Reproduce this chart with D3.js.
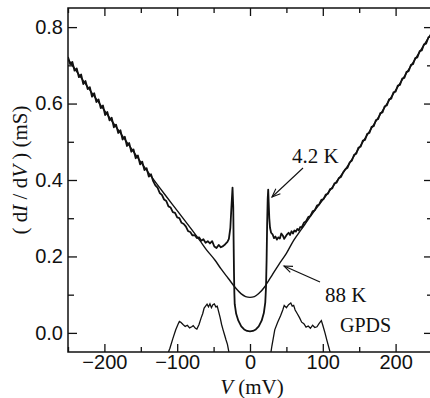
<!DOCTYPE html>
<html>
<head>
<meta charset="utf-8">
<script src="https://cdn.jsdelivr.net/npm/d3@7"></script>
<style>
  body { margin: 0; background: #fff; }
  svg { display: block; }
  .tick text { font-family: "Liberation Sans", Arial, sans-serif; font-size: 20px; fill: #111; }
  .serif { font-family: "Liberation Serif", "Times New Roman", serif; fill: #111; }
</style>
</head>
<body>
<div id="chart"></div>
<script>
// 4.2 K conductance (mV, mS)
const v42 = [-250,-247,-244,-241,-238,-235,-232,-229,-226,-223,-220,-217,-214,-211,-208,-205,-202,-199,-196,-193,-190,-187,-184,-181,-178,-175,-172,-169,-166,-163,-160,-157,-154,-151,-148,-145,-142,-139,-136,-133,
  -130,-127,-124,-121,-118,-115,-112,-109,-106,-103,-100,-97,-94,-91,-88,-85,-82,-79,-76,-73,-70,-67,-64,-61,-58,-55,-52,-49,-46,-43,-40,-37,-34,-31,-29,-27,-25.5,-24,-23,-22.5,-22,-21.5,-21,-19,-16,-12,-8,-4,
  0,4,8,12,16,19,21,22,22.8,23.5,24.3,25,25.7,26.5,27.5,29,31,33,35,37,39,41,43,45,47,49,51,53,55,57,59,61,63,65,67,69,71,
  74,77,80,83,86,89,92,95,98,101,104,107,110,113,116,119,122,125,128,131,
  134,137,140,143,146,149,152,155,158,161,164,167,170,173,176,179,182,185,188,191,194,197,200,203,206,209,212,215,218,221,224,227,230,233,236,239,242,245,248,250];
const g42 = [0.722,0.703,0.709,0.686,0.692,0.669,0.676,0.651,0.659,0.638,0.643,0.618,0.627,0.604,0.611,0.588,0.595,0.570,0.578,0.556,0.563,0.538,0.545,0.523,0.530,0.506,0.513,0.489,0.497,0.474,0.480,0.457,0.464,0.441,0.448,0.426,0.431,0.409,0.415,0.397,
  0.386,0.380,0.366,0.361,0.349,0.345,0.331,0.328,0.316,0.314,0.302,0.300,0.288,0.285,0.278,0.266,0.264,0.255,0.256,0.248,0.250,0.241,0.245,0.236,0.240,0.234,0.240,0.226,0.222,0.230,0.224,0.227,0.232,0.238,0.246,0.275,0.33,0.38,0.33,0.24,0.16,0.105,0.075,0.05,0.032,0.017,0.009,0.005,
  0.004,0.005,0.009,0.017,0.032,0.052,0.08,0.12,0.19,0.28,0.35,0.375,0.34,0.30,0.275,0.262,0.258,0.248,0.252,0.244,0.250,0.247,0.260,0.255,0.246,0.252,0.258,0.262,0.256,0.266,0.260,0.268,0.265,0.272,0.268,0.277,0.276,
  0.288,0.292,0.303,0.306,0.318,0.321,0.333,0.336,0.348,0.350,0.362,0.364,0.376,0.378,0.391,0.393,0.405,0.408,0.420,0.428,
  0.432,0.446,0.451,0.466,0.469,0.485,0.487,0.503,0.505,0.521,0.523,0.539,0.541,0.557,0.559,0.575,0.577,0.593,0.595,0.611,0.613,0.629,0.631,0.647,0.649,0.665,0.667,0.683,0.685,0.701,0.703,0.719,0.721,0.737,0.739,0.755,0.757,0.773,0.775,0.789];

// 88 K conductance
const v88 = [-250,-225,-200,-175,-150,-137.5,-117,-100,-80,-69,-60,-48,-40,-30,-20,-12,-6,0,6,12,20,25,30,40,50,60,71,85,100,115,131,160,190,220,250];
const g88 = [0.716,0.649,0.582,0.515,0.447,0.414,0.362,0.320,0.270,0.242,0.218,0.190,0.168,0.143,0.118,0.102,0.095,0.093,0.095,0.103,0.120,0.135,0.150,0.180,0.208,0.242,0.272,0.310,0.348,0.386,0.428,0.515,0.605,0.695,0.787];

// GPDS
const vGpds = [-114,-110,-106,-102,-99,-97,-95,-92,-89,-86,-83,-80,-78,-75,-73,-70,-67,-65,-63,-61,-59,-57,-55,-53,-51,-49,-47,-45,-43,-41,-39,-37,-35,-33,-31,-28,
  28,30,34,38,42,45,47,50,53,56,58,60,62,65,68,71,74,77,80,83,86,89,92,95,98,100,103,106,110,112];
const gGpds = [-0.06,-0.04,-0.015,0.008,0.022,0.03,0.028,0.022,0.017,0.02,0.013,0.016,0.019,0.012,0.01,0.022,0.04,0.05,0.065,0.07,0.075,0.068,0.076,0.066,0.074,0.076,0.068,0.07,0.055,0.04,0.022,0.008,-0.005,-0.018,-0.03,-0.06,
  -0.06,-0.035,0.008,0.028,0.045,0.06,0.072,0.066,0.074,0.078,0.07,0.072,0.06,0.05,0.04,0.028,0.024,0.015,0.018,0.012,0.02,0.014,0.016,0.025,0.032,0.02,0.0,-0.022,-0.05,-0.06];

const xTicks = [-200, -100, 0, 100, 200];
const xMinor = [-250, -150, -50, 50, 150, 250];
const yTicks = [0.0, 0.2, 0.4, 0.6, 0.8];
const yMinor = [0.1, 0.3, 0.5, 0.7];

const width = 430, height = 398;
const plotL = 68, plotR = 432, plotT = 8, plotB = 352;

const svg = d3.select("#chart").append("svg")
  .attr("width", width)
  .attr("height", height);

const x = d3.scaleLinear().domain([-250, 250]).range([plotL, plotR]);
const y = d3.scaleLinear().domain([-0.05, 0.85]).range([plotB, plotT]);

svg.append("clipPath").attr("id", "clip")
  .append("rect")
  .attr("x", plotL).attr("y", plotT)
  .attr("width", plotR - plotL).attr("height", plotB - plotT);

// axes, ticks pointing inwards
function styleAxis(g) {
  g.select(".domain").remove();
  g.selectAll(".tick line").attr("stroke", "#111").attr("stroke-width", 1.3);
}

svg.append("g").attr("transform", `translate(0,${plotB})`)
  .call(d3.axisBottom(x).tickValues(xTicks).tickSize(-8).tickPadding(3).tickFormat(d3.format("d")))
  .call(styleAxis);
svg.append("g").attr("transform", `translate(0,${plotB})`)
  .call(d3.axisBottom(x).tickValues(xMinor).tickSize(-5).tickFormat(""))
  .call(styleAxis);
svg.append("g").attr("transform", `translate(0,${plotT})`)
  .call(d3.axisTop(x).tickValues(xTicks).tickSize(-8).tickFormat(""))
  .call(styleAxis);
svg.append("g").attr("transform", `translate(0,${plotT})`)
  .call(d3.axisTop(x).tickValues(xMinor).tickSize(-5).tickFormat(""))
  .call(styleAxis);

svg.append("g").attr("transform", `translate(${plotL},0)`)
  .call(d3.axisLeft(y).tickValues(yTicks).tickSize(-9).tickPadding(5).tickFormat(d3.format(".1f")))
  .call(styleAxis);
svg.append("g").attr("transform", `translate(${plotL},0)`)
  .call(d3.axisLeft(y).tickValues(yMinor).tickSize(-6).tickFormat(""))
  .call(styleAxis);
svg.append("g").attr("transform", `translate(${plotR},0)`)
  .call(d3.axisRight(y).tickValues(yTicks).tickSize(-8).tickFormat(""))
  .call(styleAxis);
svg.append("g").attr("transform", `translate(${plotR},0)`)
  .call(d3.axisRight(y).tickValues(yMinor).tickSize(-5).tickFormat(""))
  .call(styleAxis);

// frame
svg.append("rect")
  .attr("x", plotL).attr("y", plotT)
  .attr("width", plotR - plotL).attr("height", plotB - plotT)
  .attr("fill", "none").attr("stroke", "#111").attr("stroke-width", 1.5);

// curves
const plot = svg.append("g").attr("clip-path", "url(#clip)");

const lineRaw = d3.line().x(d => x(d[0])).y(d => y(d[1]));
const lineSmooth = d3.line().x(d => x(d[0])).y(d => y(d[1])).curve(d3.curveMonotoneX);

plot.append("path")
  .datum(d3.zip(v88, g88))
  .attr("d", lineSmooth)
  .attr("fill", "none").attr("stroke", "#111").attr("stroke-width", 1.4);

plot.append("path")
  .datum(d3.zip(v42, g42))
  .attr("d", lineRaw)
  .attr("fill", "none").attr("stroke", "#111").attr("stroke-width", 1.8)
  .attr("stroke-linejoin", "round");

plot.append("path")
  .datum(d3.zip(vGpds.slice(0, 36), gGpds.slice(0, 36)))
  .attr("d", lineRaw)
  .attr("fill", "none").attr("stroke", "#111").attr("stroke-width", 1.3);
plot.append("path")
  .datum(d3.zip(vGpds.slice(36), gGpds.slice(36)))
  .attr("d", lineRaw)
  .attr("fill", "none").attr("stroke", "#111").attr("stroke-width", 1.3);

// annotations
function arrow(x1, y1, x2, y2) {
  const a = Math.atan2(y2 - y1, x2 - x1);
  const len = 9, spread = 0.38;
  svg.append("line")
    .attr("x1", x1).attr("y1", y1).attr("x2", x2).attr("y2", y2)
    .attr("stroke", "#111").attr("stroke-width", 1.1);
  svg.append("path")
    .attr("d", `M${x2 - len * Math.cos(a - spread)},${y2 - len * Math.sin(a - spread)}L${x2},${y2}L${x2 - len * Math.cos(a + spread)},${y2 - len * Math.sin(a + spread)}`)
    .attr("fill", "none").attr("stroke", "#111").attr("stroke-width", 1.1);
}

svg.append("text").attr("class", "serif").attr("x", 292).attr("y", 163)
  .style("font-size", "21px").text("4.2 K");
arrow(303, 168, 272, 197);

svg.append("text").attr("class", "serif").attr("x", 325).attr("y", 302)
  .style("font-size", "21px").text("88 K");
arrow(320, 282, 284, 266);

svg.append("text").attr("class", "serif").attr("x", 340).attr("y", 332)
  .style("font-size", "20px").text("GPDS");

// axis titles
const xt = svg.append("text").attr("class", "serif")
  .attr("x", 252).attr("y", 394).attr("text-anchor", "middle")
  .style("font-size", "21px");
xt.append("tspan").style("font-style", "italic").text("V");
xt.append("tspan").text(" (mV)");

const yt = svg.append("text").attr("class", "serif")
  .attr("transform", "translate(27,170) rotate(-90)")
  .attr("text-anchor", "middle")
  .style("font-size", "21px");
yt.append("tspan").text("( d");
yt.append("tspan").style("font-style", "italic").text("I");
yt.append("tspan").text(" / d");
yt.append("tspan").style("font-style", "italic").text("V");
yt.append("tspan").text(" ) (mS)");
</script>
</body>
</html>
